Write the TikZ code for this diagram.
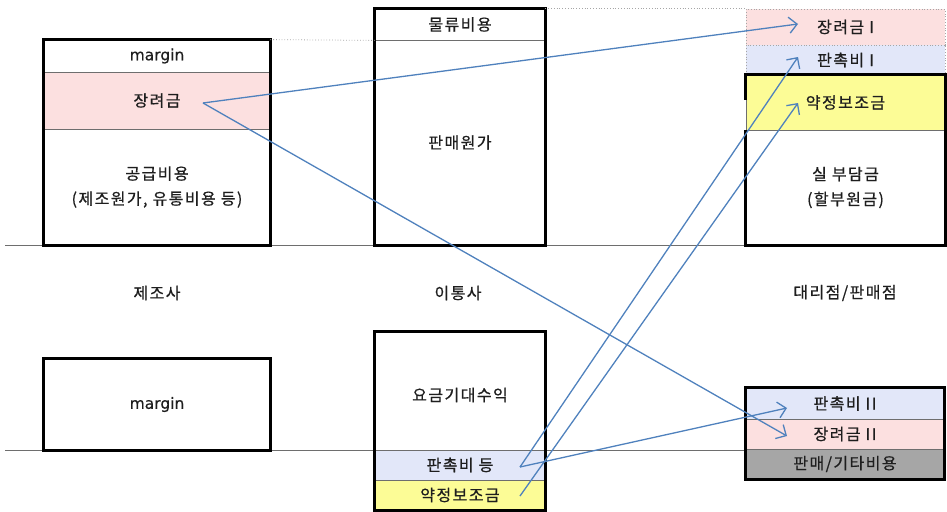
\documentclass[tikz,border=0pt]{standalone}
\usepackage{fontspec}
\setmainfont{Noto Sans CJK KR}[LetterSpace=9,FakeBold=0.7]
\newfontfamily\latinf{DejaVu Sans}[FakeBold=0.5]
\usetikzlibrary{arrows.meta,calc}
\definecolor{pinkc}{RGB}{252,224,224}
\definecolor{bluec}{RGB}{226,231,249}
\definecolor{yellc}{RGB}{252,252,150}
\definecolor{grayc}{RGB}{166,166,166}
\definecolor{arrc}{RGB}{79,129,189}
\definecolor{linec}{RGB}{110,110,110}
\definecolor{txtc}{RGB}{30,30,30}
\begin{document}
\begin{tikzpicture}[x=1pt,y=-1pt,
  cell/.style={draw=linec, line width=0.8pt, inner sep=0pt, text=txtc,
    font=\fontsize{16}{25}\selectfont, align=center},
  dcell/.style={cell, draw=gray!70, dotted},
  lbl/.style={inner sep=0pt, text=txtc, font=\fontsize{16}{18}\selectfont},
  heavy/.style={draw=black, line width=3pt, line join=miter},
  base/.style={draw=linec, line width=1pt},
  guide/.style={draw=gray!70, line width=0.8pt, dotted},
  flow/.style={draw=arrc, line width=1.3pt, -{Straight Barb[length=8pt,width=16pt,line width=1.3pt]}}
]
\useasboundingbox (0,0) rectangle (947,511);

% base lines
\coordinate (b1) at (5,245);
\coordinate (b1e) at (945,245);
\coordinate (b2) at (5,450);
\coordinate (b2e) at (945,450);
\draw[base] (b1) -- (b1e);
\draw[base] (b2) -- (b2e);

% manufacturer top
\node[cell, fill=white, minimum width=226pt, minimum height=32pt] (lm) at (157,56) {\latinf\fontsize{15.5}{18}\selectfont margin};
\node[cell, fill=pinkc, minimum width=226pt, minimum height=57pt] (lj) at (157,100.5) {장려금};
\node[cell, fill=white, minimum width=226pt, minimum height=116pt] (lg) at (157,187) {공급비용\\(제조원가, 유통비용 등)};
\draw[heavy] (lm.north west) rectangle (lg.south east);

% carrier top
\node[cell, fill=white, minimum width=170pt, minimum height=31pt] (mr) at (460,24.5) {물류비용};
\node[cell, fill=white, minimum width=170pt, minimum height=205pt] (mp) at (460,142.5) {판매원가};
\draw[heavy] (mr.north west) rectangle (mp.south east);

% dealer top
\node[dcell, fill=pinkc, minimum width=199pt, minimum height=36pt] (rj) at (845.5,27) {장려금 I};
\node[dcell, fill=bluec, minimum width=199pt, minimum height=30pt] (rp) at (845.5,60) {판촉비 I};
\node[cell, fill=yellc, minimum width=199pt, minimum height=55pt] (ry) at (845.5,102.5) {약정보조금};
\node[cell, fill=white, minimum width=199pt, minimum height=115pt] (rs) at (845.5,187.5) {실 부담금\\(할부원금)};
\draw[heavy] ($(ry.north west)+(0,25)$) -- (ry.north west) -- (ry.north east) -- (rs.south east) -- (rs.south west) -- (rs.north west);

% guides
\draw[guide] (lm.north east) -- (mr.south west);
\draw[guide] (mr.north east) -- (rj.north west);

% labels
\node[lbl] (t1) at (157,293) {제조사};
\node[lbl] (t2) at (458,293) {이통사};
\node[lbl] (t3) at (845,293) {대리점/판매점};

% manufacturer bottom
\node[cell, fill=white, minimum width=226pt, minimum height=91pt] (lb) at (157,404.5) {\latinf\fontsize{15.5}{18}\selectfont margin};
\draw[heavy] (lb.north west) rectangle (lb.south east);

% carrier bottom
\node[cell, fill=white, minimum width=170pt, minimum height=118pt] (mk) at (460,391) {};
\node[lbl] (mkt) at (460,395) {요금기대수익};
\node[cell, fill=bluec, minimum width=170pt, minimum height=30pt] (mb) at (460,465) {판촉비 등};
\node[cell, fill=yellc, minimum width=170pt, minimum height=30pt] (my) at (460,495) {약정보조금};
\draw[heavy] (mk.north west) rectangle (my.south east);

% dealer bottom
\node[cell, fill=bluec, minimum width=198pt, minimum height=31pt] (rb) at (845,403.5) {판촉비 II};
\node[cell, fill=pinkc, minimum width=198pt, minimum height=30pt] (rk) at (845,434) {장려금 II};
\node[cell, fill=grayc, minimum width=198pt, minimum height=30pt] (rg) at (845,464) {판매/기타비용};
\draw[heavy] (rb.north west) rectangle (rg.south east);

% arrow anchors
\coordinate (s1) at ($(lj.center)+(46,2.5)$);
\coordinate (s2) at ($(mb.center)+(60,2)$);
\coordinate (s3) at ($(my.center)+(60,1)$);
\coordinate (e1) at ($(rj.center)+(-47.5,-3)$);
\coordinate (e2) at ($(rp.center)+(-47.5,-3)$);
\coordinate (e3) at ($(ry.center)+(-47.5,0.5)$);
\coordinate (e4) at ($(rb.center)+(-58,4.5)$);
\coordinate (e5) at ($(rk.center)+(-58,2)$);

\draw[flow] (s1) -- (e1);
\draw[flow] (s1) -- (e5);
\draw[flow] (s2) -- (e2);
\draw[flow] (s2) -- (e4);
\draw[flow] (s3) -- (e3);
\end{tikzpicture}
\end{document}
